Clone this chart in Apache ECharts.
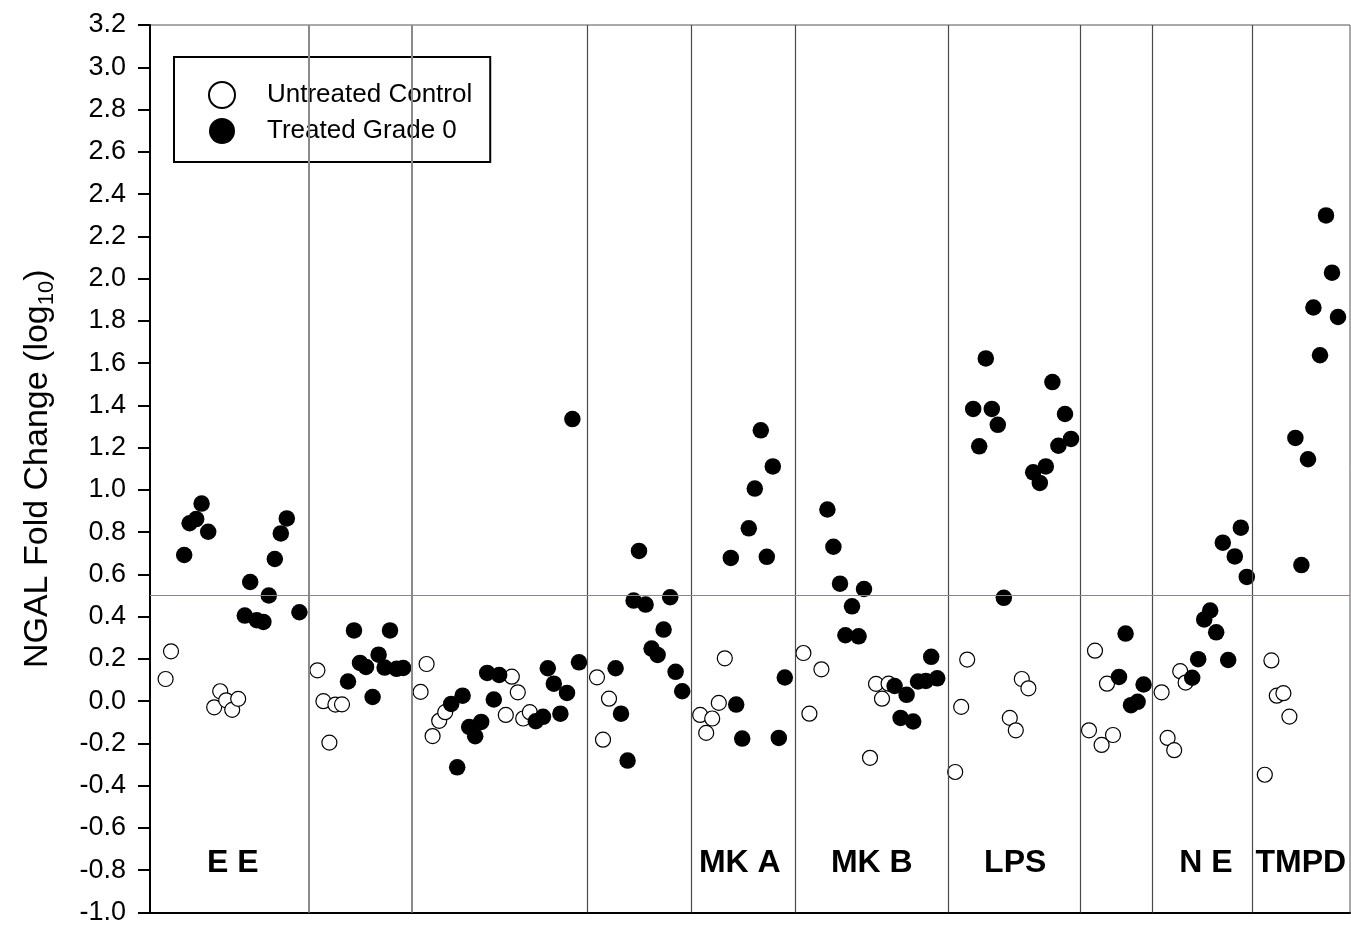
<!DOCTYPE html>
<html>
<head>
<meta charset="utf-8">
<title>NGAL Fold Change</title>
<script src="https://cdn.jsdelivr.net/npm/echarts@6/dist/echarts.min.js"></script>
<style>
  html, body { margin: 0; padding: 0; background: #fff; }
  #chart { width: 1351px; height: 926px; }
</style>
</head>
<body>
<div id="chart"></div>
<script>
// Sample slot positions along the strip (x) and log10 NGAL fold change (y)
const untreatedPos = [2.6, 3.5, 10.7, 11.7, 12.7, 13.7, 14.7,
  27.9, 28.9, 29.9, 30.9, 32.0,
  45.1, 46.1, 47.1, 48.2, 49.2, 59.3, 60.3, 61.3, 62.2, 63.3,
  74.5, 75.5, 76.5,
  91.7, 92.7, 93.7, 94.8, 95.8,
  108.9, 109.9, 111.9, 120.0, 121.0, 122.0, 123.1,
  134.2, 135.2, 136.2, 143.3, 144.3, 145.3, 146.4,
  156.5, 157.5, 158.6, 159.5, 160.5,
  168.6, 169.6, 170.7, 171.7, 172.6,
  185.8, 186.9, 187.8, 188.9, 189.9];
const untreatedFold = [0.105, 0.236, -0.029, 0.047, 0.004, -0.041, 0.011,
  0.146, 0.0, -0.196, -0.016, -0.015,
  0.044, 0.176, -0.165, -0.093, -0.052, -0.065, 0.116, 0.042, -0.082, -0.052,
  0.113, -0.182, 0.012,
  -0.065, -0.15, -0.082, -0.008, 0.203,
  0.228, -0.059, 0.151, -0.268, 0.082, 0.012, 0.083,
  -0.335, -0.027, 0.197, -0.079, -0.138, 0.105, 0.061,
  -0.138, 0.239, -0.207, 0.083, -0.16,
  0.042, -0.174, -0.232, 0.142, 0.088,
  -0.348, 0.193, 0.026, 0.038, -0.073];

const treatedPos = [5.7, 6.6, 7.7, 8.6, 9.7, 15.8, 16.7, 17.8, 18.9, 19.8, 20.8, 21.8, 22.8, 24.9,
  33.0, 34.0, 35.0, 36.0, 37.1, 38.1, 39.1, 40.0, 41.1, 42.2,
  50.2, 51.2, 52.1, 53.2, 54.2, 55.2, 56.2, 57.3, 58.2, 64.3, 65.5, 66.3, 67.3, 68.4, 69.5, 70.4, 71.5,
  77.6, 78.5, 79.6, 80.6, 81.5, 82.6, 83.6, 84.6, 85.6, 86.7, 87.6, 88.7,
  96.8, 97.7, 98.7, 99.8, 100.8, 101.8, 102.8, 103.8, 104.8, 105.8,
  112.9, 113.9, 115.0, 115.9, 117.0, 118.1, 119.0, 124.1, 125.1, 126.1, 127.2, 128.0, 129.3, 130.2, 131.2,
  137.2, 138.2, 139.3, 140.3, 141.3, 142.3, 147.2, 148.3, 149.3, 150.4, 151.4, 152.5, 153.5,
  161.5, 162.6, 163.5, 164.6, 165.6,
  173.7, 174.7, 175.7, 176.7, 177.7, 178.8, 179.7, 180.8, 181.8, 182.8,
  190.9, 191.9, 193.0, 193.9, 195.0, 196.0, 197.0, 198.0];
const treatedFold = [0.692, 0.842, 0.862, 0.935, 0.802, 0.405, 0.564, 0.383, 0.375, 0.5, 0.673, 0.794, 0.865, 0.421,
  0.093, 0.335, 0.181, 0.162, 0.02, 0.22, 0.159, 0.335, 0.153, 0.157,
  -0.013, -0.313, 0.026, -0.122, -0.166, -0.098, 0.134, 0.008, 0.124, -0.095, -0.074, 0.156, 0.083, -0.059, 0.039, 1.335, 0.184,
  0.156, -0.059, -0.281, 0.476, 0.711, 0.457, 0.249, 0.219, 0.339, 0.492, 0.139, 0.047,
  0.678, -0.016, -0.177, 0.818, 1.006, 1.282, 0.683, 1.111, -0.174, 0.112,
  0.907, 0.731, 0.556, 0.312, 0.449, 0.307, 0.531, 0.072, -0.079, 0.03, -0.096, 0.093, 0.096, 0.21, 0.108,
  1.383, 1.206, 1.622, 1.383, 1.308, 0.489, 1.083, 1.033, 1.111, 1.51, 1.209, 1.359, 1.241,
  0.115, 0.32, -0.019, -0.003, 0.079,
  0.111, 0.199, 0.387, 0.429, 0.326, 0.75, 0.195, 0.685, 0.821, 0.588,
  1.246, 0.644, 1.145, 1.863, 1.637, 2.299, 2.028, 1.818];

// Group boundaries and group captions
const dividerPos = [26.5, 43.7, 72.8, 90.2, 107.5, 133.0, 155.0, 167.0, 183.7];
const groupNames = ['E E', 'MK A', 'MK B', 'LPS', 'N E', 'TMPD'];
const groupNamePos = [13.8, 98.3, 120.3, 144.2, 176.0, 191.8];
const groupNameLevel = -0.765;

// Threshold line and axis range
const threshold = 0.5;
const yMin = -1.0, yMax = 3.2, yStep = 0.2;
const xMin = 0, xMax = 200;

const FONT = '"Liberation Sans", Arial, Helvetica, sans-serif';

const zip = (xs, ys) => xs.map((x, i) => [x, ys[i]]);

const dividerLines = dividerPos.map((x, i) => ({
  xAxis: x,
  lineStyle: i < 2 ? { color: '#8a8a8a', width: 2, type: 'solid' }
                   : { color: '#4a4a4a', width: 1.2, type: 'solid' }
}));

const chart = echarts.init(document.getElementById('chart'), null, { renderer: 'canvas' });

chart.setOption({
  backgroundColor: '#ffffff',
  animation: false,
  textStyle: { fontFamily: FONT },
  grid: {
    left: 150, right: 1, top: 25, bottom: 13,
    show: true, borderColor: '#555', borderWidth: 1, backgroundColor: 'transparent'
  },
  legend: {
    left: 174, top: 57,
    orient: 'vertical',
    data: ['Untreated Control', 'Treated Grade 0'],
    itemWidth: 26, itemHeight: 26, itemGap: 9,
    padding: [24, 18, 18, 34],
    backgroundColor: '#fff',
    borderColor: '#000', borderWidth: 2, borderRadius: 0,
    selectedMode: false,
    textStyle: { fontFamily: FONT, fontSize: 26, color: '#000', lineHeight: 26, padding: [0, 0, 0, 27] }
  },
  xAxis: {
    type: 'value', min: xMin, max: xMax,
    axisLine: { show: true, onZero: false, lineStyle: { color: '#000', width: 2 } },
    axisTick: { show: false },
    axisLabel: { show: false },
    splitLine: { show: false }
  },
  yAxis: {
    type: 'value', min: yMin, max: yMax, interval: yStep,
    name: '{t|NGAL Fold Change (log}{s|10}{t|)}',
    nameLocation: 'middle',
    nameGap: 92,
    nameTextStyle: {
      fontFamily: FONT,
      rich: {
        t: { fontFamily: FONT, fontSize: 34, color: '#000', lineHeight: 40, verticalAlign: 'middle' },
        s: { fontFamily: FONT, fontSize: 22, color: '#000', lineHeight: 22, verticalAlign: 'bottom' }
      }
    },
    axisLine: { show: true, onZero: false, lineStyle: { color: '#000', width: 2 } },
    axisTick: { show: true, inside: false, length: 12, lineStyle: { color: '#000', width: 2 } },
    axisLabel: {
      margin: 24, fontFamily: FONT, fontSize: 27, color: '#000',
      formatter: v => v.toFixed(1)
    },
    splitLine: { show: false }
  },
  series: [
    {
      name: 'Untreated Control',
      type: 'scatter',
      z: 3,
      symbol: 'circle',
      symbolSize: 15,
      itemStyle: { color: '#ffffff', borderColor: '#000', borderWidth: 1.2, opacity: 1 },
      data: zip(untreatedPos, untreatedFold),
      markLine: {
        silent: true,
        symbol: ['none', 'none'],
        label: { show: false },
        animation: false,
        data: dividerLines.concat([
          { yAxis: threshold, lineStyle: { color: '#d86464', width: 1, type: 'solid' } }
        ])
      }
    },
    {
      name: 'Treated Grade 0',
      type: 'scatter',
      z: 4,
      symbol: 'circle',
      symbolSize: 16.5,
      itemStyle: { color: '#000000', borderColor: '#000', borderWidth: 0, opacity: 1 },
      data: zip(treatedPos, treatedFold)
    },
    {
      name: 'groups',
      type: 'scatter',
      z: 5,
      symbolSize: 0,
      silent: true,
      itemStyle: { color: '#000' },
      data: groupNamePos.map((x, i) => ({ value: [x, groupNameLevel], name: groupNames[i] })),
      label: {
        show: true,
        position: 'inside',
        formatter: p => p.name,
        fontFamily: FONT, fontSize: 32, fontWeight: 'bold', color: '#000',
        textBorderWidth: 0, textBorderColor: 'transparent', opacity: 1
      }
    }
  ]
});
</script>
</body>
</html>
